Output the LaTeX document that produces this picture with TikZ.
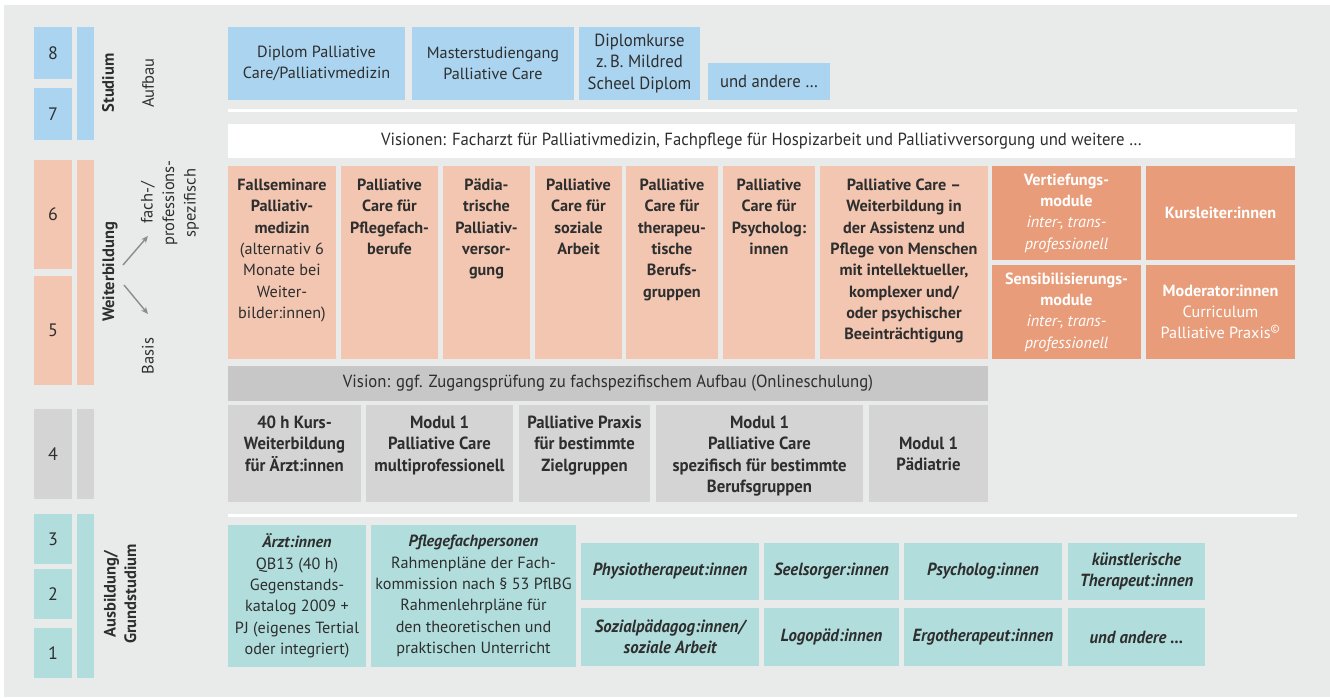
\documentclass[tikz,border=0pt]{standalone}
\usepackage{fontspec}
\setmainfont{PT Sans}
\newfontfamily\narrowfont[FakeStretch=0.95]{PT Sans}
\usetikzlibrary{positioning,arrows.meta}

\definecolor{panelgrey}{HTML}{E9EBEA}
\definecolor{studblue}{HTML}{AAD4EF}
\definecolor{weiterrose}{HTML}{F2C6B1}
\definecolor{modulrose}{HTML}{E89C79}
\definecolor{basisgrey}{HTML}{D4D4D5}
\definecolor{visiongrey}{HTML}{C7C7C7}
\definecolor{grundteal}{HTML}{B1DEDD}
\definecolor{ink}{HTML}{2E2E2E}
\definecolor{pfeilgrey}{HTML}{8C8C8C}

\newcommand{\grundfont}{\fontsize{16.2}{21.3}\selectfont}
\newcommand{\schmalgroesse}{\fontsize{17.6}{21.3}\selectfont}
\tikzset{
  cell/.style={inner sep=0pt, outer sep=0pt, align=center, text=ink, font=\grundfont},
  fett/.style={font=\grundfont\bfseries},
  schmal/.style={font=\narrowfont\schmalgroesse},
  schmalfett/.style={font=\narrowfont\schmalgroesse\bfseries},
  schmalkursiv/.style={font=\narrowfont\schmalgroesse\bfseries\itshape},
  sz/.style 2 args={minimum width=#1pt, minimum height=#2pt},
  lvl/.style={cell, font=\fontsize{18}{20}\selectfont},
  blau/.style={cell, fill=studblue},
  rose/.style={cell, fill=weiterrose},
  deeprose/.style={cell, fill=modulrose, text=white},
  basis/.style={cell, fill=basisgrey},
  grund/.style={cell, fill=grundteal},
  seite/.style={cell, rotate=90, font=\fontsize{16.5}{21.5}\selectfont},
  seitefett/.style={cell, rotate=90, font=\fontsize{16.5}{20.5}\selectfont\bfseries},
  pfeil/.style={draw=pfeilgrey, line width=1.4pt, -{Stealth[length=7pt,width=6pt]}},
  trenner/.style={draw=white, line width=3pt}
}

\begin{document}
\begin{tikzpicture}[x=1pt, y=-1pt]
\useasboundingbox (0,0) rectangle (1330,697);
\fill[panelgrey] (4,5) rectangle (1330,697);

% Semester / Stufen links
\node[lvl, fill=studblue, sz={38}{52}] (j8) at (53,53) {8};
\node[lvl, fill=studblue, sz={38}{52}] (j7) at (53,114) {7};
\node[lvl, fill=weiterrose, sz={38}{109}] (j6) at (53,214.5) {6};
\node[lvl, fill=weiterrose, sz={38}{109}] (j5) at (53,330.5) {5};
\node[lvl, fill=basisgrey, sz={38}{90}] (j4) at (53,454) {4};
\node[lvl, fill=grundteal, sz={38}{50}] (j3) at (53,539) {3};
\node[lvl, fill=grundteal, sz={38}{50}] (j2) at (53,594) {2};
\node[lvl, fill=grundteal, sz={38}{50}] (j1) at (53,653) {1};

\node[blau, sz={17}{113}] (barstud) at (85.5,83.5) {};
\node[rose, sz={17}{225}] (barweiter) at (85.5,272.5) {};
\node[basis, sz={17}{90}] (barbasis) at (85.5,454) {};
\node[grund, sz={17}{164}] (bargrund) at (85.5,596) {};

\node[seitefett] (studium) at (108,83) {Studium};
\node[seite] (aufbau) at (148,83) {Aufbau};
\node[seitefett] (weiterb) at (110,272) {Weiterbildung};
\node[seite] (fach) at (170,203) {fach-/\\professions-\\spezifisch};
\node[seite] (basistxt) at (148,356) {Basis};
\node[seitefett] (grundtxt) at (120,594) {Ausbildung/\\Grundstudium};

\coordinate (gabelo) at (123,265);
\coordinate (gabelu) at (124,285);
\coordinate (zielfach) at (148,236);
\coordinate (zielbasis) at (148,314);
\draw[pfeil] (gabelo) -- (zielfach);
\draw[pfeil] (gabelu) -- (zielbasis);

% Studium / Aufbau
\node[blau, sz={177}{73}] (diplom) at (316.5,63.5) {Diplom Palliative\\Care/Palliativmedizin};
\node[blau, sz={162}{73}] (master) at (493,63.5) {Masterstudiengang\\Palliative Care};
\node[blau, schmal, sz={121}{73}] (kurse) at (639.5,63.5) {Diplomkurse\\z.\,B. Mildred\\Scheel Diplom};
\node[blau, schmal, sz={122}{37}] (andere) at (769,81.5) {und andere \dots};

\draw[trenner] (228,110) -- (1297,110);
\node[cell, schmal, fill=white, sz={1067}{34}] (visionen) at (761.5,141)
  {Visionen: Facharzt für Palliativmedizin, Fachpflege für Hospizarbeit und Palliativversorgung und weitere \dots};

% Weiterbildung fach-/professionsspezifisch
\node[rose, sz={108}{193}] (fall) at (282,262.5) {};
\node[cell, below=13pt of fall.north] (fallt) {\textbf{Fallseminare}\\\textbf{Palliativ-}\\\textbf{medizin}\\(alternativ 6\\Monate bei\\Weiter-\\bilder:innen)};
\node[rose, sz={97}{193}] (pflege) at (389.5,262.5) {};
\node[cell, fett, below=13pt of pflege.north] (pflegt) {Palliative\\Care für\\Pflegefach-\\berufe};
\node[rose, sz={87}{193}] (paed) at (486.5,262.5) {};
\node[cell, fett, below=13pt of paed.north] (paedt) {Pädia-\\trische\\Palliativ-\\versor-\\gung};
\node[rose, sz={87}{193}] (sozial) at (578.5,262.5) {};
\node[cell, fett, below=13pt of sozial.north] (sozialt) {Palliative\\Care für\\soziale\\Arbeit};
\node[rose, sz={92}{193}] (thera) at (672,262.5) {};
\node[cell, fett, below=13pt of thera.north] (therat) {Palliative\\Care für\\therapeu-\\tische\\Berufs-\\gruppen};
\node[rose, sz={92}{193}] (psych) at (769,262.5) {};
\node[cell, fett, below=13pt of psych.north] (psycht) {Palliative\\Care für\\Psycholog:\\innen};
\node[rose, sz={168}{193}] (assist) at (904,262.5) {};
\node[cell, fett, below=13pt of assist.north] (assistt) {Palliative Care --\\Weiterbildung in\\der Assistenz und\\Pflege von Menschen\\mit intellektueller,\\komplexer und/\\oder psychischer\\Beeinträchtigung};

\node[deeprose, sz={149}{94}] (vertief) at (1066.5,213)
  {\textbf{Vertiefungs-}\\\textbf{module}\\\textit{inter-, trans-}\\\textit{professionell}};
\node[deeprose, fett, sz={149}{94}] (kursleiter) at (1220.5,213) {Kursleiter:innen};
\node[deeprose, sz={149}{94}] (sensib) at (1066.5,312)
  {\textbf{Sensibilisierungs-}\\\textbf{module}\\\textit{inter-, trans-}\\\textit{professionell}};
\node[deeprose, sz={149}{94}] (moderator) at (1220.5,312)
  {\textbf{Moderator:innen}\\Curriculum\\Palliative Praxis\textsuperscript{©}};

% Weiterbildung Basis
\node[cell, schmal, fill=visiongrey, sz={760}{35}] (zugang) at (608,383.5)
  {Vision: ggf. Zugangsprüfung zu fachspezifischem Aufbau (Onlineschulung)};
\node[basis, sz={133}{97}] (kurs40) at (294.5,453.5) {};
\node[cell, schmalfett, below=11pt of kurs40.north] (kurs40t) {40 h Kurs-\\Weiterbildung\\für Ärzt:innen};
\node[basis, sz={147}{97}] (multi) at (439.5,453.5) {};
\node[cell, schmalfett, below=11pt of multi.north] (multit) {Modul 1\\Palliative Care\\multiprofessionell};
\node[basis, sz={131}{97}] (praxis) at (584.5,453.5) {};
\node[cell, schmalfett, below=11pt of praxis.north] (praxist) {Palliative Praxis\\für bestimmte\\Zielgruppen};
\node[basis, sz={207}{97}] (spezif) at (759.5,453.5) {};
\node[cell, schmalfett, below=11pt of spezif.north] (spezift) {Modul 1\\Palliative Care\\spezifisch für bestimmte\\Berufsgruppen};
\node[basis, schmalfett, sz={119}{97}] (paediatrie) at (928.5,453.5) {Modul 1\\Pädiatrie};

\draw[trenner] (228,515) -- (1297,515);

% Ausbildung / Grundstudium
\node[grund, sz={138}{142}] (aerzte) at (297,596)
  {\textbf{\textit{Ärzt:innen}}\\QB13 (40 h)\\Gegenstands-\\katalog 2009 +\\PJ (eigenes Tertial\\oder integriert)};
\node[grund, sz={205}{142}] (pflegefach) at (473.5,596)
  {\textbf{\textit{Pflegefachpersonen}}\\Rahmenpläne der Fach-\\kommission nach § 53 PflBG\\Rahmenlehrpläne für\\den theoretischen und\\praktischen Unterricht};
\node[grund, schmalkursiv, sz={178}{57}] (physio) at (670,571.5) {Physiotherapeut:innen};
\node[grund, schmalkursiv, sz={135}{57}] (seelsorge) at (831.5,571.5) {Seelsorger:innen};
\node[grund, schmalkursiv, sz={158}{57}] (psycholog) at (983,571.5) {Psycholog:innen};
\node[grund, schmalkursiv, sz={137}{57}] (kunst) at (1136.5,571.5) {künstlerische\\Therapeut:innen};
\node[grund, schmalkursiv, sz={178}{58}] (sozpaed) at (670,637) {Sozialpädagog:innen/\\soziale Arbeit};
\node[grund, schmalkursiv, sz={135}{58}] (logo) at (831.5,637) {Logopäd:innen};
\node[grund, schmalkursiv, sz={158}{58}] (ergo) at (983,637) {Ergotherapeut:innen};
\node[grund, schmalkursiv, sz={137}{58}] (weitere) at (1136.5,637) {und andere \dots};
\end{tikzpicture}
\end{document}
